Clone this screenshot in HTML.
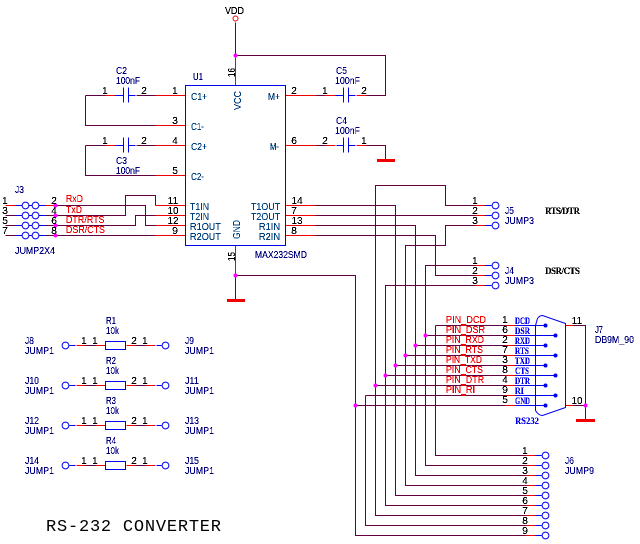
<!DOCTYPE html>
<html><head><meta charset="utf-8"><title>RS-232 Converter</title>
<style>
html,body{margin:0;padding:0;background:#fff}
svg{display:block}
.d,.r,.b{fill:none;stroke-width:1;shape-rendering:crispEdges}
.d{stroke:#600040}.r{stroke:#f00000}.b{stroke:#0000f0}
text{font-family:"Liberation Sans",sans-serif;font-size:10px}
.n{fill:#000;text-anchor:middle}
.l{fill:#000080}
.p{fill:#00407f}
.e{fill:#f00000}
.s{font-family:"Liberation Serif",serif;font-size:9px;font-weight:bold}
.c{fill:#fff;stroke:#0000f0;stroke-width:1}
</style></head><body>
<svg width="640" height="544" viewBox="0 0 640 544" xmlns="http://www.w3.org/2000/svg">
<defs><filter id="a" filterUnits="userSpaceOnUse" x="0" y="0" width="640" height="544" color-interpolation-filters="sRGB"><feComponentTransfer><feFuncA type="discrete" tableValues="0 1 1"/></feComponentTransfer></filter></defs>
<rect width="640" height="544" fill="#fff"/>
<g transform="translate(.5,.5)">
<path class="d" d="M235 22V55H385V95H366M85 95H105M85 95V125H155M136 95H155M85 145H105M85 145V175H155M136 145H155M316 95H324M316 145H325M366 145H385V160M235 275V299M235 275H355V535H525M5 215H15M5 225H15M5 235H15M55 205H145V225H155M55 215H125V195H155V205M55 225H135V215H155M55 235H155M45 215H55M45 225H55M45 235H55M315 205H395V495H525M315 215H475M315 225H415V475H525M315 235H435V275H475M475 205H445V185H375V515H525M475 225H445V245H405V485H525M475 265H425V465H525M475 285H385V505H525M435 325H505M435 325V455H525M425 335H505M415 345H505M405 355H505M395 365H505M385 375H505M375 385H505M365 395H505M365 395V525H525M355 405H505M573 325H585V419M573 405H585M85 345H95M135 345H145M85 385H95M135 385H145M85 425H95M135 425H145M85 465H95M135 465H145"/>
<path class="r" d="M235 55V85M235 245V275M105 95H115M155 95H185M155 125H185M105 145H115M155 145H185M155 175H185M285 95H316M324 95H335M356 95H366M285 145H316M325 145H335M356 145H366M5 205H15M45 205H55M155 205H185M155 215H185M155 225H185M155 235H185M285 205H315M285 215H315M285 225H315M285 235H315M475 205H485M475 215H485M475 225H485M475 265H485M475 275H485M475 285H485M505 325H515M505 335H515M505 345H515M505 355H515M505 365H515M505 375H515M505 385H515M505 395H515M505 405H515M525 455H535M525 465H535M525 475H535M525 485H535M525 495H535M525 505H535M525 515H535M525 525H535M525 535H535M565 325H573M565 405H573M76 345H85M95 345H105M126 345H135M145 345H155M76 385H85M95 385H105M126 385H135M145 385H155M76 425H85M95 425H105M126 425H135M145 425H155M76 465H85M95 465H105M126 465H135M145 465H155"/>
<path class="b" d="M115 95H123M123 87V102M128 87V102M128 95H135M115 145H123M123 137V152M128 137V152M128 145H135M335 95H343M343 87V102M348 87V102M348 95H355M336 145H343M343 137V152M348 137V152M348 145H355M15 205H22M15 215H22M15 225H22M15 235H22M28 205H32M28 215H32M28 225H32M28 235H32M38 205H45M38 215H45M38 225H45M38 235H45M485 205H491M485 215H491M485 225H491M485 265H491M485 275H491M485 285H491M535 455H541M535 465H541M535 475H541M535 485H541M535 495H541M535 505H541M535 515H541M535 525H541M535 535H541M69 345H75M156 345H161M69 385H75M156 385H161M69 425H75M156 425H161M69 465H75M156 465H161M515 325H545M515 335H555M515 345H545M515 355H555M515 365H545M515 375H555M515 385H545M515 395H555M515 405H545"/>
<rect class="b" x="185" y="85" width="100" height="160"/>
<rect class="b" x="105" y="341" width="20" height="8"/>
<rect class="b" x="105" y="381" width="20" height="8"/>
<rect class="b" x="105" y="421" width="20" height="8"/>
<rect class="b" x="105" y="461" width="20" height="8"/>
<path d="M535 325L537 318Q539 315 542 315L565 323V407L542 415Q538 415 535 410Z" fill="none" stroke="#0000f0"/>
<circle cx="235" cy="18" r="2.5" fill="#fff" stroke="#f00000"/>
<g class="c">
<circle cx="25" cy="205" r="3.4"/><circle cx="35" cy="205" r="3.4"/>
<circle cx="25" cy="215" r="3.4"/><circle cx="35" cy="215" r="3.4"/>
<circle cx="25" cy="225" r="3.4"/><circle cx="35" cy="225" r="3.4"/>
<circle cx="25" cy="235" r="3.4"/><circle cx="35" cy="235" r="3.4"/>
<circle cx="495" cy="205" r="3.4"/><circle cx="495" cy="215" r="3.4"/><circle cx="495" cy="225" r="3.4"/>
<circle cx="495" cy="265" r="3.4"/><circle cx="495" cy="275" r="3.4"/><circle cx="495" cy="285" r="3.4"/>
<circle cx="545" cy="455" r="3.4"/><circle cx="545" cy="465" r="3.4"/><circle cx="545" cy="475" r="3.4"/>
<circle cx="545" cy="485" r="3.4"/><circle cx="545" cy="495" r="3.4"/><circle cx="545" cy="505" r="3.4"/>
<circle cx="545" cy="515" r="3.4"/><circle cx="545" cy="525" r="3.4"/><circle cx="545" cy="535" r="3.4"/>
<circle cx="65" cy="345" r="3.4"/><circle cx="165" cy="345" r="3.4"/>
<circle cx="65" cy="385" r="3.4"/><circle cx="165" cy="385" r="3.4"/>
<circle cx="65" cy="425" r="3.4"/><circle cx="165" cy="425" r="3.4"/>
<circle cx="65" cy="465" r="3.4"/><circle cx="165" cy="465" r="3.4"/>
</g>
<g fill="#0000f0">
<circle cx="545" cy="325" r="2"/><circle cx="555" cy="335" r="2"/><circle cx="545" cy="345" r="2"/>
<circle cx="555" cy="355" r="2"/><circle cx="545" cy="365" r="2"/><circle cx="555" cy="375" r="2"/>
<circle cx="545" cy="385" r="2"/><circle cx="555" cy="395" r="2"/><circle cx="545" cy="405" r="2"/>
</g>
<g fill="#ff00ff">
<circle cx="235" cy="55" r="2"/><circle cx="235" cy="275" r="2"/>
<circle cx="55" cy="205" r="2"/><circle cx="55" cy="215" r="2"/><circle cx="55" cy="225" r="2"/><circle cx="55" cy="235" r="2"/>
<circle cx="425" cy="335" r="2"/><circle cx="415" cy="345" r="2"/><circle cx="405" cy="355" r="2"/>
<circle cx="395" cy="365" r="2"/><circle cx="385" cy="375" r="2"/><circle cx="375" cy="385" r="2"/>
<circle cx="355" cy="405" r="2"/><circle cx="585" cy="405" r="2"/>
</g>
</g>
<rect x="377" y="159" width="18" height="3" fill="#f00000"/>
<rect x="227" y="299" width="18" height="3" fill="#f00000"/>
<rect x="576" y="419" width="19" height="3" fill="#f00000"/>
<g fill="#f00000" shape-rendering="crispEdges">
<rect x="461" y="324" width="5" height="2"/><rect x="461" y="334" width="5" height="2"/>
<rect x="461" y="344" width="5" height="2"/><rect x="461" y="354" width="5" height="2"/>
<rect x="461" y="364" width="5" height="2"/><rect x="461" y="374" width="5" height="2"/>
<rect x="461" y="384" width="5" height="2"/><rect x="461" y="394" width="5" height="2"/>
</g>

<g filter="url(#a)">
<text x="225" y="14" textLength="19" lengthAdjust="spacingAndGlyphs" fill="#000">VDD</text>
<g class="l">
<text x="116" y="74" textLength="11" lengthAdjust="spacingAndGlyphs">C2</text>
<text x="116" y="84" textLength="24" lengthAdjust="spacingAndGlyphs">100nF</text>
<text x="116" y="164" textLength="11" lengthAdjust="spacingAndGlyphs">C3</text>
<text x="116" y="174" textLength="24" lengthAdjust="spacingAndGlyphs">100nF</text>
<text x="336" y="74" textLength="11" lengthAdjust="spacingAndGlyphs">C5</text>
<text x="335" y="84" textLength="25" lengthAdjust="spacingAndGlyphs">100nF</text>
<text x="336" y="124" textLength="11" lengthAdjust="spacingAndGlyphs">C4</text>
<text x="335" y="134" textLength="25" lengthAdjust="spacingAndGlyphs">100nF</text>
<text x="193" y="80" textLength="10" lengthAdjust="spacingAndGlyphs">U1</text>
<text x="15" y="193" textLength="9" lengthAdjust="spacingAndGlyphs">J3</text>
<text x="15" y="254" textLength="40" lengthAdjust="spacingAndGlyphs">JUMP2X4</text>
<text x="255" y="258" textLength="52" lengthAdjust="spacingAndGlyphs">MAX232SMD</text>
<text x="505" y="214" textLength="9" lengthAdjust="spacingAndGlyphs">J5</text>
<text x="505" y="224" textLength="29" lengthAdjust="spacingAndGlyphs">JUMP3</text>
<text x="505" y="274" textLength="9" lengthAdjust="spacingAndGlyphs">J4</text>
<text x="505" y="284" textLength="29" lengthAdjust="spacingAndGlyphs">JUMP3</text>
<text x="595" y="333" textLength="8" lengthAdjust="spacingAndGlyphs">J7</text>
<text x="595" y="343" textLength="39" lengthAdjust="spacingAndGlyphs">DB9M_90</text>
<text x="565" y="464" textLength="9" lengthAdjust="spacingAndGlyphs">J6</text>
<text x="565" y="474" textLength="29" lengthAdjust="spacingAndGlyphs">JUMP9</text>
<text x="106" y="324" textLength="10" lengthAdjust="spacingAndGlyphs">R1</text>
<text x="106" y="334" textLength="13" lengthAdjust="spacingAndGlyphs">10k</text>
<text x="106" y="364" textLength="10" lengthAdjust="spacingAndGlyphs">R2</text>
<text x="106" y="374" textLength="13" lengthAdjust="spacingAndGlyphs">10k</text>
<text x="106" y="404" textLength="10" lengthAdjust="spacingAndGlyphs">R3</text>
<text x="106" y="414" textLength="13" lengthAdjust="spacingAndGlyphs">10k</text>
<text x="106" y="444" textLength="10" lengthAdjust="spacingAndGlyphs">R4</text>
<text x="106" y="454" textLength="13" lengthAdjust="spacingAndGlyphs">10k</text>
<text x="25" y="344" textLength="9" lengthAdjust="spacingAndGlyphs">J8</text>
<text x="25" y="354" textLength="29" lengthAdjust="spacingAndGlyphs">JUMP1</text>
<text x="185" y="344" textLength="9" lengthAdjust="spacingAndGlyphs">J9</text>
<text x="185" y="354" textLength="29" lengthAdjust="spacingAndGlyphs">JUMP1</text>
<text x="25" y="384" textLength="14" lengthAdjust="spacingAndGlyphs">J10</text>
<text x="25" y="394" textLength="29" lengthAdjust="spacingAndGlyphs">JUMP1</text>
<text x="185" y="384" textLength="14" lengthAdjust="spacingAndGlyphs">J11</text>
<text x="185" y="394" textLength="29" lengthAdjust="spacingAndGlyphs">JUMP1</text>
<text x="25" y="424" textLength="14" lengthAdjust="spacingAndGlyphs">J12</text>
<text x="25" y="434" textLength="29" lengthAdjust="spacingAndGlyphs">JUMP1</text>
<text x="185" y="424" textLength="14" lengthAdjust="spacingAndGlyphs">J13</text>
<text x="185" y="434" textLength="29" lengthAdjust="spacingAndGlyphs">JUMP1</text>
<text x="25" y="464" textLength="14" lengthAdjust="spacingAndGlyphs">J14</text>
<text x="25" y="474" textLength="29" lengthAdjust="spacingAndGlyphs">JUMP1</text>
<text x="185" y="464" textLength="14" lengthAdjust="spacingAndGlyphs">J15</text>
<text x="185" y="474" textLength="29" lengthAdjust="spacingAndGlyphs">JUMP1</text>
</g>
<g class="p">
<text x="191" y="100" textLength="16" lengthAdjust="spacingAndGlyphs">C1+</text>
<text x="191" y="130" textLength="13" lengthAdjust="spacingAndGlyphs">C1-</text>
<text x="191" y="150" textLength="16" lengthAdjust="spacingAndGlyphs">C2+</text>
<text x="191" y="180" textLength="13" lengthAdjust="spacingAndGlyphs">C2-</text>
<text x="268" y="100" textLength="12" lengthAdjust="spacingAndGlyphs">M+</text>
<text x="270" y="150" textLength="9" lengthAdjust="spacingAndGlyphs">M-</text>
<text x="190" y="210" textLength="19" lengthAdjust="spacingAndGlyphs">T1IN</text>
<text x="190" y="220" textLength="19" lengthAdjust="spacingAndGlyphs">T2IN</text>
<text x="190" y="230" textLength="31" lengthAdjust="spacingAndGlyphs">R1OUT</text>
<text x="190" y="240" textLength="31" lengthAdjust="spacingAndGlyphs">R2OUT</text>
<text x="251" y="210" textLength="29" lengthAdjust="spacingAndGlyphs">T1OUT</text>
<text x="251" y="220" textLength="29" lengthAdjust="spacingAndGlyphs">T2OUT</text>
<text x="259" y="230" textLength="21" lengthAdjust="spacingAndGlyphs">R1IN</text>
<text x="259" y="240" textLength="21" lengthAdjust="spacingAndGlyphs">R2IN</text>
<text transform="translate(241,110) rotate(-90)" textLength="19" lengthAdjust="spacingAndGlyphs">VCC</text>
<text transform="translate(240,239) rotate(-90)" textLength="19" lengthAdjust="spacingAndGlyphs">GND</text>
</g>
<g fill="#000">
<text transform="translate(235,77) rotate(-90)" textLength="9" lengthAdjust="spacingAndGlyphs">16</text>
<text transform="translate(235,261) rotate(-90)" textLength="9" lengthAdjust="spacingAndGlyphs">15</text>
</g>
<g class="n">
<text x="105" y="94">1</text><text x="144" y="94">2</text><text x="175" y="94">1</text>
<text x="175" y="124">3</text><text x="105" y="144">1</text><text x="144" y="144">2</text>
<text x="175" y="144">4</text><text x="175" y="174">5</text><text x="294" y="94">2</text>
<text x="294" y="144">6</text><text x="325" y="94">1</text><text x="364" y="94">2</text>
<text x="325" y="144">2</text><text x="364" y="144">1</text>
<text x="5" y="204">1</text><text x="5" y="214">3</text><text x="5" y="224">5</text><text x="5" y="234">7</text>
<text x="54" y="204">2</text><text x="54" y="214">4</text><text x="54" y="224">6</text><text x="54" y="234">8</text>
<text x="173" y="204">11</text><text x="173" y="214">10</text><text x="173" y="224">12</text><text x="175" y="234">9</text>
<text x="297" y="204">14</text><text x="294" y="214">7</text><text x="297" y="224">13</text><text x="294" y="234">8</text>
<text x="475" y="204">1</text><text x="475" y="214">2</text><text x="475" y="224">3</text>
<text x="475" y="264">1</text><text x="475" y="274">2</text><text x="475" y="284">3</text>
<text x="505" y="323">1</text><text x="505" y="333">6</text><text x="505" y="343">2</text>
<text x="505" y="353">7</text><text x="505" y="363">3</text><text x="505" y="373">8</text>
<text x="505" y="383">4</text><text x="505" y="393">9</text><text x="505" y="403">5</text>
<text x="577" y="324">11</text><text x="577" y="404">10</text>
<text x="525" y="454">1</text><text x="525" y="464">2</text><text x="525" y="474">3</text>
<text x="525" y="484">4</text><text x="525" y="494">5</text><text x="525" y="504">6</text>
<text x="525" y="514">7</text><text x="525" y="524">8</text><text x="525" y="534">9</text>
<text x="84" y="344">1</text><text x="95" y="344">1</text><text x="134" y="344">2</text><text x="145" y="344">1</text>
<text x="84" y="384">1</text><text x="95" y="384">1</text><text x="134" y="384">2</text><text x="145" y="384">1</text>
<text x="84" y="424">1</text><text x="95" y="424">1</text><text x="134" y="424">2</text><text x="145" y="424">1</text>
<text x="84" y="464">1</text><text x="95" y="464">1</text><text x="134" y="464">2</text><text x="145" y="464">1</text>
</g>
<g class="e">
<text x="66" y="202" textLength="17" lengthAdjust="spacingAndGlyphs">RxD</text>
<text x="66" y="213" textLength="16" lengthAdjust="spacingAndGlyphs">TxD</text>
<text x="66" y="223" textLength="38.5" lengthAdjust="spacingAndGlyphs">DTR/RTS</text>
<text x="66" y="233" textLength="39" lengthAdjust="spacingAndGlyphs">DSR/CTS</text>
<text x="446" y="323" textLength="40" lengthAdjust="spacingAndGlyphs">PIN_DCD</text>
<text x="446" y="333" textLength="39" lengthAdjust="spacingAndGlyphs">PIN_DSR</text>
<text x="446" y="343" textLength="38" lengthAdjust="spacingAndGlyphs">PIN_RXD</text>
<text x="446" y="353" textLength="37" lengthAdjust="spacingAndGlyphs">PIN_RTS</text>
<text x="446" y="363" textLength="36" lengthAdjust="spacingAndGlyphs">PIN_TXD</text>
<text x="446" y="373" textLength="37" lengthAdjust="spacingAndGlyphs">PIN_CTS</text>
<text x="446" y="383" textLength="38" lengthAdjust="spacingAndGlyphs">PIN_DTR</text>
<text x="446" y="393" textLength="29" lengthAdjust="spacingAndGlyphs">PIN_RI</text>
</g>
<g fill="#0000f0">
<text class="s" x="515" y="324" textLength="15" lengthAdjust="spacingAndGlyphs">DCD</text>
<text class="s" x="515" y="334" textLength="15" lengthAdjust="spacingAndGlyphs">DSR</text>
<text class="s" x="515" y="344" textLength="15" lengthAdjust="spacingAndGlyphs">RXD</text>
<text class="s" x="515" y="354" textLength="14" lengthAdjust="spacingAndGlyphs">RTS</text>
<text class="s" x="515" y="364" textLength="15" lengthAdjust="spacingAndGlyphs">TXD</text>
<text class="s" x="515" y="374" textLength="14" lengthAdjust="spacingAndGlyphs">CTS</text>
<text class="s" x="515" y="384" textLength="15" lengthAdjust="spacingAndGlyphs">DTR</text>
<text class="s" x="515" y="394" textLength="9" lengthAdjust="spacingAndGlyphs">RI</text>
<text class="s" x="515" y="404" textLength="15" lengthAdjust="spacingAndGlyphs">GND</text>
<text class="s" x="515" y="424" textLength="24" lengthAdjust="spacingAndGlyphs">RS232</text>
</g>
<text class="s" x="545" y="214" textLength="35" lengthAdjust="spacing" fill="#000">RTS/DTR</text>
<text class="s" x="545" y="274" textLength="35" lengthAdjust="spacing" fill="#000">DSR/CTS</text>
</g>
<text x="46" y="531" textLength="175" style="font-family:'Liberation Mono',monospace;font-size:17px" fill="#000">RS-232 CONVERTER</text>
</svg>
</body></html>
